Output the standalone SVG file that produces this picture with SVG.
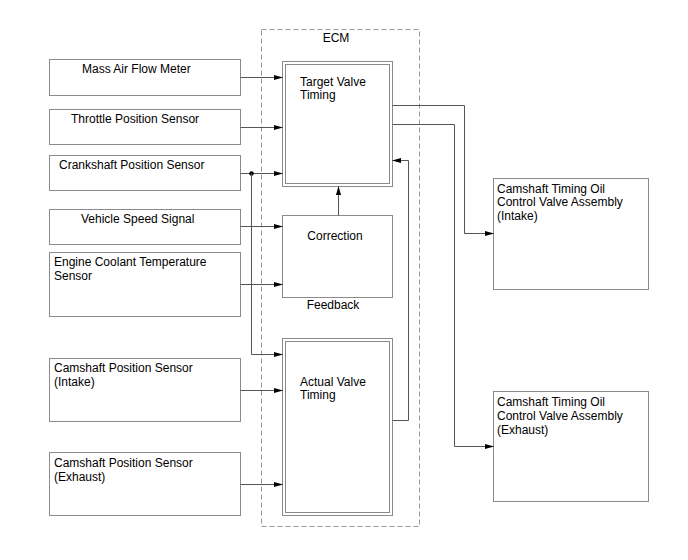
<svg xmlns="http://www.w3.org/2000/svg" width="688" height="560" viewBox="0 0 688 560">
<defs>
<marker id="ah" markerWidth="9" markerHeight="6" refX="8.5" refY="3" orient="auto" markerUnits="userSpaceOnUse">
<path d="M0,0.5 L9,3 L0,5.5 Z" fill="#000"/>
</marker>
<style>
.box{fill:#fff;stroke:#8a8a8a;stroke-width:1}
.dbl{fill:none;stroke:#8a8a8a;stroke-width:1}
.ecm{fill:none;stroke:#999;stroke-width:1;stroke-dasharray:5,3}
.c{fill:none;stroke:#555;stroke-width:1;marker-end:url(#ah)}
.l{fill:none;stroke:#555;stroke-width:1}
text{font-family:"Liberation Sans",Arial,sans-serif;font-size:12px;fill:#000}
</style>
</defs>
<rect width="688" height="560" fill="#fff"/>
<g id="ecm">
<rect class="ecm" x="261.5" y="29.5" width="158" height="497"/>
<text x="336" y="42" text-anchor="middle">ECM</text>
</g>
<g id="maf"><rect class="box" x="49.5" y="59.5" width="191" height="36"/><text x="82" y="73">Mass Air Flow Meter</text></g>
<g id="tps"><rect class="box" x="49.5" y="109.5" width="191" height="35"/><text x="71" y="123">Throttle Position Sensor</text></g>
<g id="ckp"><rect class="box" x="49.5" y="155.5" width="191" height="35"/><text x="59" y="169">Crankshaft Position Sensor</text></g>
<g id="vss"><rect class="box" x="49.5" y="209.5" width="191" height="35"/><text x="81" y="223">Vehicle Speed Signal</text></g>
<g id="ect"><rect class="box" x="49.5" y="252.5" width="191" height="64"/><text x="54" y="266">Engine Coolant Temperature</text><text x="54" y="280">Sensor</text></g>
<g id="cmpi"><rect class="box" x="49.5" y="358.5" width="191" height="63"/><text x="54" y="372">Camshaft Position Sensor</text><text x="54" y="386">(Intake)</text></g>
<g id="cmpe"><rect class="box" x="49.5" y="452.5" width="191" height="63"/><text x="54" y="467">Camshaft Position Sensor</text><text x="54" y="481">(Exhaust)</text></g>
<g id="target"><rect class="box" x="282.5" y="61.5" width="110" height="125"/><rect class="dbl" x="285.5" y="64.5" width="104" height="119"/><text x="300" y="86">Target Valve</text><text x="300" y="99">Timing</text></g>
<g id="correction"><rect class="box" x="282.5" y="215.5" width="110" height="82"/><text x="335" y="240" text-anchor="middle">Correction</text></g>
<text x="333" y="309" text-anchor="middle">Feedback</text>
<g id="actual"><rect class="box" x="282.5" y="338.5" width="110" height="177"/><rect class="dbl" x="285.5" y="341.5" width="104" height="171"/><text x="300" y="386">Actual Valve</text><text x="300" y="399">Timing</text></g>
<g id="ocvi"><rect class="box" x="493.5" y="178.5" width="155" height="111"/><text x="497" y="193">Camshaft Timing Oil</text><text x="497" y="206">Control Valve Assembly</text><text x="497" y="220">(Intake)</text></g>
<g id="ocve"><rect class="box" x="493.5" y="391.5" width="155" height="110"/><text x="497" y="406">Camshaft Timing Oil</text><text x="497" y="420">Control Valve Assembly</text><text x="497" y="434">(Exhaust)</text></g>
<g id="connectors">
<path class="c" d="M240.5,77.5 H282.5"/>
<path class="c" d="M240.5,127.5 H282.5"/>
<path class="c" d="M240.5,173.5 H282.5"/>
<circle cx="251.5" cy="173.5" r="2.3" fill="#000"/>
<path class="c" d="M251.5,173.5 V354.5 H282.5"/>
<path class="c" d="M240.5,226.5 H282.5"/>
<path class="c" d="M240.5,284.5 H282.5"/>
<path class="c" d="M240.5,390.5 H282.5"/>
<path class="c" d="M240.5,484.5 H282.5"/>
<path class="c" d="M338.5,215.5 V186.5"/>
<path class="c" d="M392.5,420.5 H408.5 V160.5 H392.5"/>
<path class="c" d="M392.5,105.5 H464.5 V233.5 H493.5"/>
<path class="c" d="M392.5,124.5 H454.5 V446.5 H493.5"/>
</g>
</svg>
